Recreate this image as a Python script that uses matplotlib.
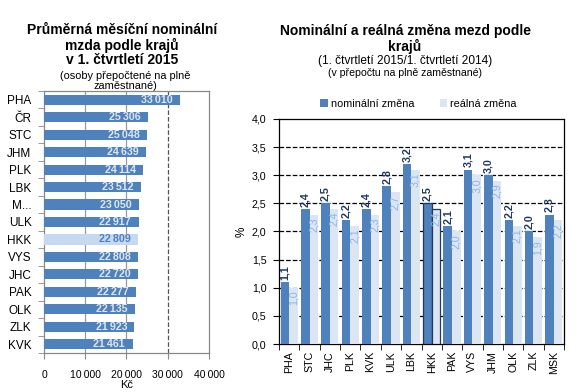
import matplotlib.pyplot as plt
import numpy as np

plt.rcParams['font.family'] = ['Liberation Sans', 'DejaVu Sans']

# left chart: average nominal monthly wage by region
regions = ['PHA', 'ČR', 'STC', 'JHM', 'PLK', 'LBK', 'M...', 'ULK', 'HKK',
           'VYS', 'JHC', 'PAK', 'OLK', 'ZLK', 'KVK']
wages = [33010, 25306, 25048, 24639, 24114, 23512, 23050, 22917, 22809,
         22808, 22720, 22277, 22135, 21923, 21461]
wage_ticks = [0, 10000, 20000, 30000, 40000]

# right chart: nominal and real change
change_regions = ['PHA', 'STC', 'JHC', 'PLK', 'KVK', 'ULK', 'LBK', 'HKK',
                  'PAK', 'VYS', 'JHM', 'OLK', 'ZLK', 'MSK']
nominal = [1.1, 2.4, 2.5, 2.2, 2.4, 2.8, 3.2, 2.5, 2.1, 3.1, 3.0, 2.2, 2.0, 2.3]
real = [1.0, 2.3, 2.4, 2.1, 2.3, 2.7, 3.1, 2.4, 2.0, 3.0, 2.9, 2.1, 1.9, 2.2]

BLUE = '#4F81BD'
LIGHT = '#DCE6F2'
HILITE = '#C6D9F1'
NAVY = '#1F3864'

W, H = 577, 392
fig = plt.figure(figsize=(W / 100, H / 100), dpi=100)


def fmt_th(v):
    return f'{v:,}'.replace(',', '\u2009')


def fmt_dec(v):
    return f'{v:.1f}'.replace('.', ',')


# ---------- left chart ----------
ax1 = fig.add_axes([44 / W, (H - 353) / H, 165 / W, 262 / H])
y = np.arange(len(regions))
colors = [HILITE if r == 'HKK' else BLUE for r in regions]
ax1.barh(y, wages, height=0.58, color=colors, zorder=3)
for yi, v, r in zip(y, wages, regions):
    ax1.text(v - 1800, yi, fmt_th(v), ha='right', va='center', fontsize=7.7,
             fontweight='bold', color=BLUE if r == 'HKK' else LIGHT, zorder=4)
ax1.set_xlim(0, 40000)
ax1.set_ylim(len(regions) - 0.5, -0.5)
for gx, ls, c in [(10000, '-', '#999999'), (20000, '-', '#999999'), (30000, '--', '#555555')]:
    ax1.axvline(gx, ls=ls, color=c, lw=0.9, zorder=1)
ax1.set_xticks(wage_ticks)
ax1.set_xticklabels([fmt_th(t) for t in wage_ticks], fontsize=7.5)
ax1.set_yticks(y)
ax1.set_yticklabels(regions, fontsize=8.5)
ax1.set_yticks(np.arange(len(regions) + 1) - 0.5, minor=True)
ax1.tick_params(axis='y', which='major', length=0, pad=9)
ax1.tick_params(axis='y', which='minor', length=4, color='#888888')
ax1.tick_params(axis='x', length=4, color='#888888', pad=8)
ax1.set_xlabel('Kč', fontsize=8, labelpad=0)
for s in ax1.spines.values():
    s.set_color('#888888')
    s.set_linewidth(0.9)

fig.text(122 / W, 1 - 45 / H, 'Průměrná měsíční nominální\nmzda podle krajů\nv 1. čtvrtletí 2015',
         ha='center', va='center', fontsize=10, fontweight='bold', linespacing=1.05)
fig.text(125 / W, 1 - 81 / H, '(osoby přepočtené na plně\nzaměstnané)',
         ha='center', va='center', fontsize=7.9, linespacing=1.05)

# ---------- right chart ----------
ax2 = fig.add_axes([279 / W, (H - 344) / H, 285 / W, 225 / H])
x = np.arange(len(change_regions))
bw = 0.42
edge = [NAVY if r == 'HKK' else 'none' for r in change_regions]
ax2.bar(x - bw / 2, nominal, bw, color=BLUE, edgecolor=edge, lw=0.9,
        label='nominální změna', zorder=3)
ax2.bar(x + bw / 2, real, bw, color=LIGHT, edgecolor=edge, lw=0.9,
        label='reálná změna', zorder=3)
for xi, v in zip(x, nominal):
    ax2.text(xi - bw / 2, v + 0.04, fmt_dec(v), rotation=90, ha='center', va='bottom',
             fontsize=7.7, fontweight='bold', color=NAVY, zorder=4)
for xi, v in zip(x, real):
    ax2.text(xi + bw / 2, v - 0.05, fmt_dec(v), rotation=90, ha='center', va='top',
             fontsize=7.7, color='#8EB4E3', zorder=4)
ax2.set_ylim(0, 4.0)
ax2.set_xlim(-0.5, len(change_regions) - 0.5)
ax2.set_yticks(np.arange(0, 4.01, 0.5))
ax2.set_yticklabels([fmt_dec(t) for t in np.arange(0, 4.01, 0.5)], fontsize=7.7)
for gy in np.arange(0.5, 4.0, 0.5):
    ax2.axhline(gy, ls='--', color='black', lw=0.9, zorder=1)
ax2.set_xticks(x)
ax2.set_xticklabels(change_regions, rotation=90, fontsize=7.7)
ax2.set_xticks(np.arange(len(change_regions) + 1) - 0.5, minor=True)
ax2.tick_params(axis='x', which='major', length=0, pad=5)
ax2.tick_params(axis='x', which='minor', length=4)
ax2.tick_params(axis='y', length=4, pad=5)
ax2.set_ylabel('%', fontsize=8.5, labelpad=3)
for s in ax2.spines.values():
    s.set_color('black')
    s.set_linewidth(0.9)

ax2.legend(loc='lower center', bbox_to_anchor=(0.49, 1.02), ncol=2, frameon=False,
           fontsize=7.8, handlelength=0.7, handleheight=0.7, handletextpad=0.3,
           columnspacing=2.3, borderaxespad=0.1)

fig.text(405 / W, 1 - 39 / H, 'Nominální a reálná změna mezd podle\nkrajů',
         ha='center', va='center', fontsize=10, fontweight='bold', linespacing=1.0)
fig.text(405 / W, 1 - 61 / H, '(1. čtvrtletí 2015/1. čtvrtletí 2014)',
         ha='center', va='center', fontsize=8.6)
fig.text(405 / W, 1 - 73 / H, '(v přepočtu na plně zaměstnané)',
         ha='center', va='center', fontsize=7.6)

fig.savefig('out.png', dpi=100, facecolor='white')
